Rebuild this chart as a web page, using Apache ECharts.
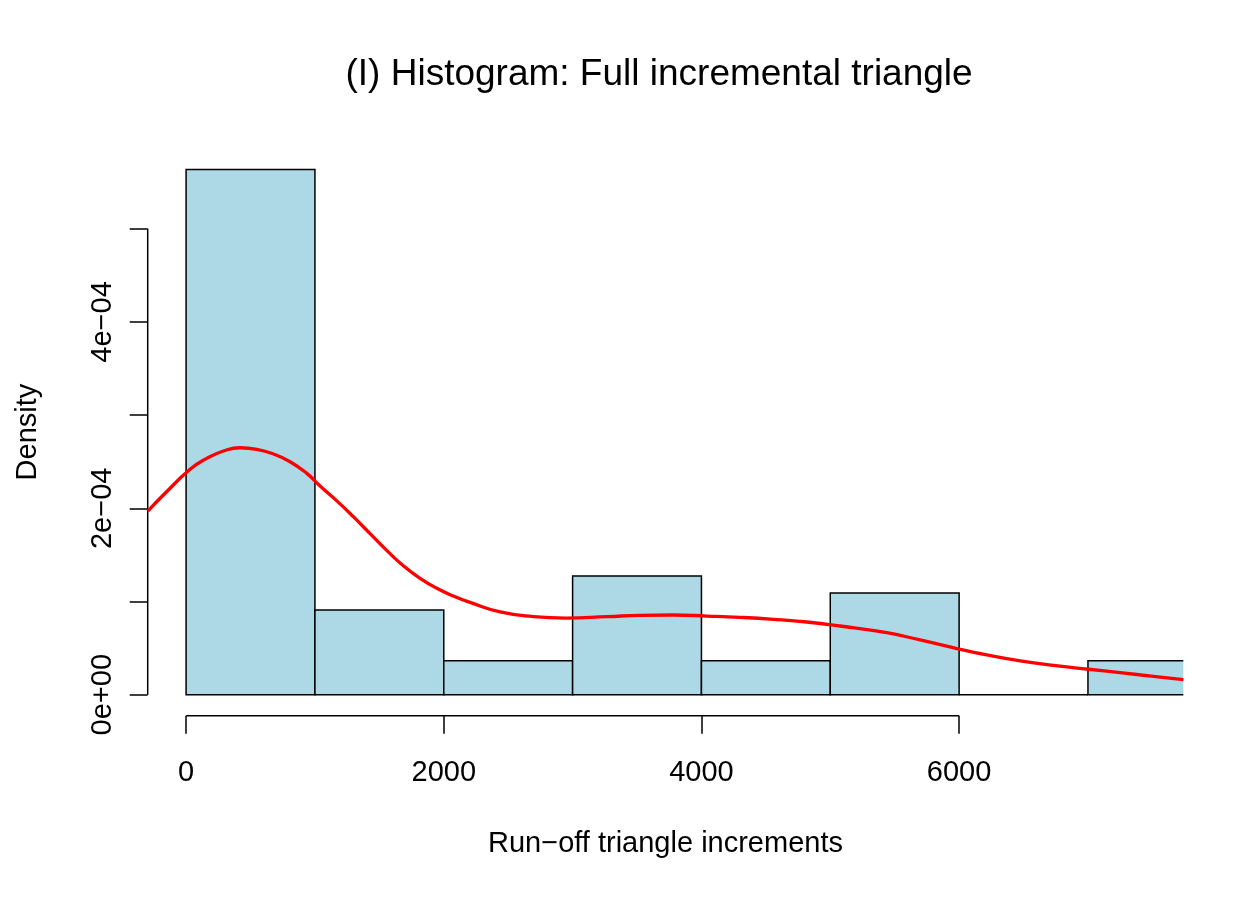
<!DOCTYPE html>
<html>
<head>
<meta charset="utf-8">
<title>Histogram: Full incremental triangle</title>
<script src="https://cdn.jsdelivr.net/npm/echarts@6/dist/echarts.min.js"></script>
<style>
	html, body { margin: 0; padding: 0; background: #fff; }
	#container { width: 1260px; height: 900px; }
</style>
</head>
<body>
<div id="container"></div>
<script>
// histogram bins (density scale)
var binStart = [0, 1000, 2000, 3000, 4000, 5000, 6000, 7000];
var binEnd = [1000, 2000, 3000, 4000, 5000, 6000, 7000, 8000];
var binDensity = [5.636e-4, 0.909e-4, 0.364e-4, 1.273e-4, 0.364e-4, 1.091e-4, 0, 0.364e-4];

// kernel density curve
var kdeX = [-297, -163, 31, 160, 290, 419, 549, 678, 807, 937, 1040, 1170, 1298, 1428, 1557, 1686,
	1816, 1946, 2074, 2204, 2437, 2695, 2950, 3266, 3524, 3782, 4042, 4300, 4559, 4818, 5076, 5439,
	5697, 6000, 6215, 6474, 6732, 7004, 7250, 7508, 7740];
var kdeY = [1.971e-4, 2.161e-4, 2.418e-4, 2.536e-4, 2.615e-4, 2.650e-4, 2.633e-4, 2.583e-4, 2.500e-4,
	2.375e-4, 2.24e-4, 2.08e-4, 1.910e-4, 1.728e-4, 1.548e-4, 1.384e-4, 1.249e-4, 1.142e-4, 1.059e-4,
	0.990e-4, 0.888e-4, 0.838e-4, 0.822e-4, 0.837e-4, 0.852e-4, 0.855e-4, 0.844e-4, 0.830e-4, 0.809e-4,
	0.780e-4, 0.737e-4, 0.665e-4, 0.587e-4, 0.490e-4, 0.426e-4, 0.362e-4, 0.315e-4, 0.273e-4, 0.236e-4,
	0.197e-4, 0.161e-4];

// axes
var xTicks = [0, 2000, 4000, 6000];
var yTicks = [0, 1e-4, 2e-4, 3e-4, 4e-4, 5e-4];
var yLabelTicks = [0, 2e-4, 4e-4];
var yTickLabels = ['0e+00', '2e\u221204', '4e\u221204'];

var xMin = -298, xMax = 7740;
var yMin = -0.2255e-4, yMax = 5.862e-4;

var font = '"Liberation Sans", Arial, Helvetica, sans-serif';

var dom = document.getElementById('container');
var myChart = echarts.init(dom, null, { renderer: 'canvas' });

var bins = binStart.map(function (s, i) { return [s, binEnd[i], binDensity[i]]; });
var kde = kdeX.map(function (x, i) { return [x, kdeY[i]]; });

var option = {
	animation: false,
	backgroundColor: '#fff',
	graphic: [{
		type: 'text',
		left: 665.5 - 320,
		top: 56,
		style: {
			text: '(I) Histogram: Full incremental triangle',
			width: 640,
			align: 'center',
			font: '37px ' + font,
			fill: '#000'
		}
	}],
	grid: { left: 147.7, top: 148.4, width: 1035.6, height: 567.3, containLabel: false },
	xAxis: {
		type: 'value',
		min: xMin,
		max: xMax,
		name: 'Run\u2212off triangle increments',
		nameLocation: 'middle',
		nameGap: 114,
		nameTextStyle: { fontFamily: font, fontSize: 29, color: '#000' },
		axisLine: { show: false, onZero: false },
		splitLine: { show: false },
		axisTick: { show: true, length: 18, customValues: xTicks, lineStyle: { color: '#000', width: 1.5 } },
		axisLabel: {
			customValues: xTicks, margin: 43,
			fontFamily: font, fontSize: 29, color: '#000',
			formatter: function (v) { return String(v); }
		}
	},
	yAxis: {
		type: 'value',
		min: yMin,
		max: yMax,
		name: 'Density',
		nameLocation: 'middle',
		nameGap: 105,
		nameTextStyle: { fontFamily: font, fontSize: 29, color: '#000' },
		axisLine: { show: false, onZero: false },
		splitLine: { show: false },
		axisTick: { show: true, length: 18, customValues: yTicks, lineStyle: { color: '#000', width: 1.5 } },
		axisLabel: {
			customValues: yLabelTicks, rotate: 90, margin: 30,
			fontFamily: font, fontSize: 29, color: '#000',
			formatter: function (v) {
				for (var i = 0; i < yLabelTicks.length; i++) {
					if (Math.abs(v - yLabelTicks[i]) < 1e-9) return yTickLabels[i];
				}
				return '';
			}
		}
	},
	series: [
		{
			name: 'hist',
			type: 'custom',
			data: bins,
			renderItem: function (params, api) {
				var p0 = api.coord([api.value(0), 0]);
				var p1 = api.coord([api.value(1), api.value(2)]);
				var cs = params.coordSys;
				return {
					type: 'rect',
					shape: { x: p0[0], y: p1[1], width: p1[0] - p0[0], height: p0[1] - p1[1] },
					style: { fill: '#ADD8E6', stroke: '#000', lineWidth: 1.5 },
					clipPath: { type: 'rect', shape: { x: cs.x, y: cs.y, width: cs.width, height: cs.height } }
				};
			}
		},
		{
			name: 'density',
			type: 'line',
			data: kde,
			smooth: 0.5,
			showSymbol: false,
			clip: true,
			lineStyle: { color: '#FF0000', width: 3.3 },
			z: 5
		},
		{
			// R style axis line spanning the ticks only
			name: 'xaxis',
			type: 'line',
			data: [[xTicks[0], yMin], [xTicks[xTicks.length - 1], yMin]],
			showSymbol: false,
			clip: false,
			lineStyle: { color: '#000', width: 1.5 }
		},
		{
			name: 'yaxis',
			type: 'line',
			data: [[xMin, yTicks[0]], [xMin, yTicks[yTicks.length - 1]]],
			showSymbol: false,
			clip: false,
			lineStyle: { color: '#000', width: 1.5 }
		}
	]
};

if (option && typeof option === 'object') {
	myChart.setOption(option, true);
}
</script>
</body>
</html>
